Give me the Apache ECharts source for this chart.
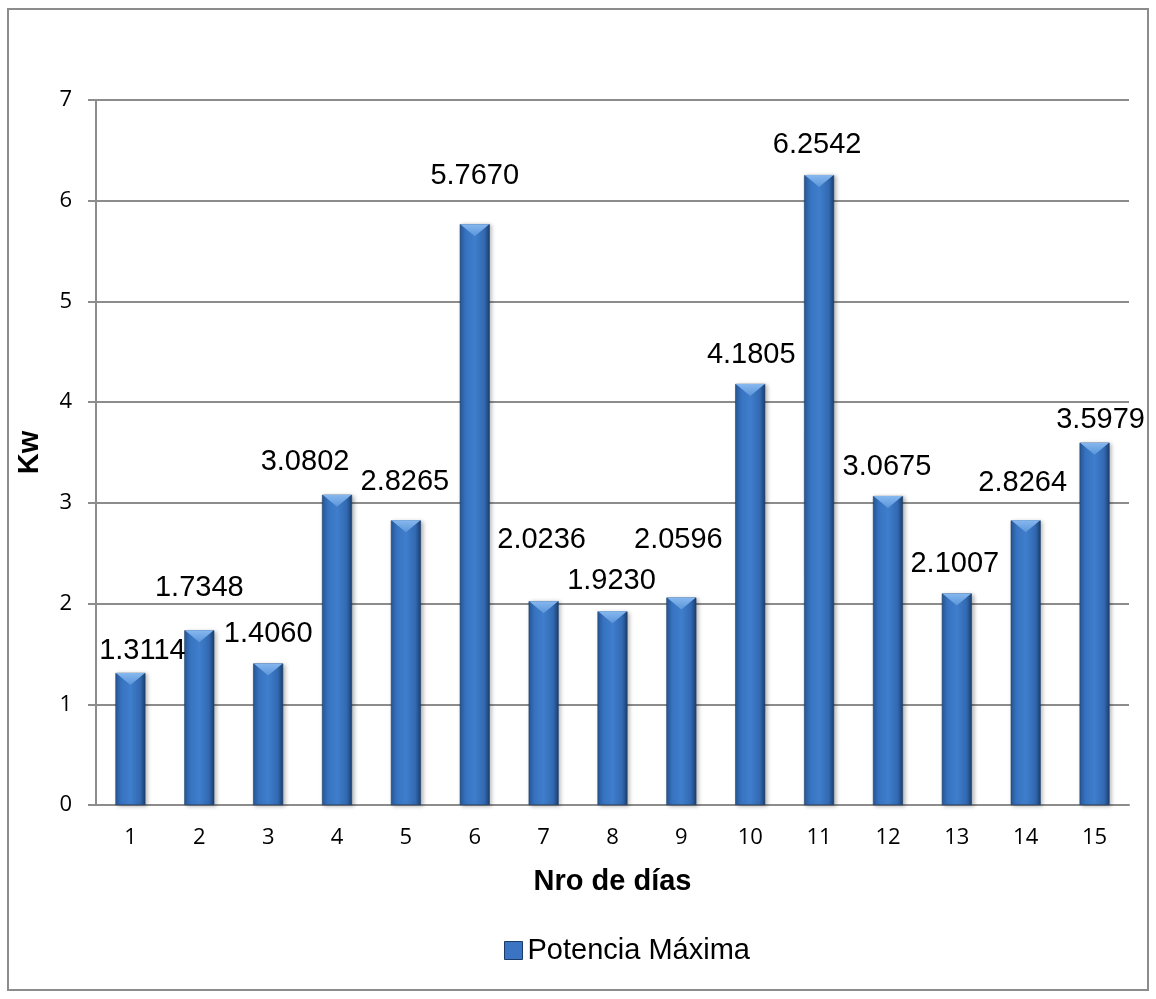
<!DOCTYPE html>
<html>
<head>
<meta charset="utf-8">
<script src="https://cdn.jsdelivr.net/npm/echarts@6/dist/echarts.min.js"></script>
<style>
  html, body { margin: 0; padding: 0; background: #ffffff; }
  #chart { width: 1156px; height: 999px; }
</style>
</head>
<body>
<div id="chart"></div>
<script>
// Días de medición y potencia máxima registrada (kW)
const dias = ['1', '2', '3', '4', '5', '6', '7', '8', '9', '10', '11', '12', '13', '14', '15'];
const potenciaMaxima = [1.3114, 1.7348, 1.4060, 3.0802, 2.8265, 5.7670, 2.0236, 1.9230, 2.0596, 4.1805, 6.2542, 3.0675, 2.1007, 2.8264, 3.5979];
const serieNombre = 'Potencia Máxima';
const yTicks = [0, 1, 2, 3, 4, 5, 6, 7];

// Desplazamiento [dx, dy] de cada etiqueta respecto al centro superior de su barra
const labelNudge = [
  [12, -22], [0, -42], [0, -29], [-32, -33], [-1, -38],
  [0, -48], [-2, -61], [-1, -30], [-3, -58], [1, -29],
  [-2, -30], [-1, -29], [-2, -29], [-3, -37], [6, -23]
];

const GRID_COLOR = '#8c8c8c';

const barGradient = new echarts.graphic.LinearGradient(0, 0, 1, 0, [
  { offset: 0, color: '#285896' },
  { offset: 0.18, color: '#3672c0' },
  { offset: 0.5, color: '#3f7ecc' },
  { offset: 0.82, color: '#3269b2' },
  { offset: 1, color: '#1b3f6c' }
]);

const bevelGradient = new echarts.graphic.LinearGradient(0, 0, 0, 1, [
  { offset: 0, color: '#86b8ef' },
  { offset: 1, color: '#5b95da' }
]);

const barData = potenciaMaxima.map((v, i) => ({
  value: v,
  label: {
    offset: labelNudge[i]
  }
}));

const chart = echarts.init(document.getElementById('chart'), null, { renderer: 'canvas' });

chart.setOption({
  animation: false,
  backgroundColor: '#ffffff',
  graphic: [{
    type: 'rect',
    shape: { x: 8, y: 9, width: 1140, height: 981 },
    style: { fill: 'none', stroke: GRID_COLOR, lineWidth: 2 },
    silent: true,
    z: -1
  }],
  grid: { left: 96, right: 27, top: 100, bottom: 194 },
  legend: {
    data: [{ name: serieNombre, icon: 'rect' }],
    left: 499,
    top: 931,
    itemWidth: 18,
    itemHeight: 18,
    itemGap: 6,
    itemStyle: { color: '#3a74c2', borderColor: '#1b3c68', borderWidth: 1 },
    textStyle: { fontFamily: 'Liberation Sans', fontSize: 29, color: '#000000', padding: [0, 0, 0, 0] }
  },
  xAxis: {
    type: 'category',
    data: dias,
    name: 'Nro de días',
    nameLocation: 'middle',
    nameGap: 62,
    nameTextStyle: { fontFamily: 'Liberation Sans', fontWeight: 'bold', fontSize: 29, color: '#000000' },
    axisLine: { show: true, lineStyle: { color: GRID_COLOR, width: 2 } },
    axisTick: { show: false },
    axisLabel: { fontFamily: 'Open Sans', fontSize: 22, color: '#000000', margin: 22 },
    splitLine: { show: false }
  },
  yAxis: {
    type: 'value',
    min: yTicks[0],
    max: yTicks[yTicks.length - 1],
    interval: 1,
    name: 'Kw',
    nameLocation: 'middle',
    nameGap: 52,
    nameRotate: 90,
    nameTextStyle: { fontFamily: 'Liberation Sans', fontWeight: 'bold', fontSize: 29, color: '#000000' },
    axisLine: { show: true, lineStyle: { color: GRID_COLOR, width: 2 } },
    axisTick: { show: true, length: 8, lineStyle: { color: GRID_COLOR, width: 2 } },
    axisLabel: { fontFamily: 'Open Sans', fontSize: 22, color: '#000000', margin: 24 },
    splitLine: { show: true, lineStyle: { color: GRID_COLOR, width: 2 } }
  },
  series: [
    {
      name: serieNombre,
      type: 'bar',
      data: barData,
      barWidth: 30,
      itemStyle: {
        color: barGradient,
        borderColor: '#1b3c68',
        borderWidth: 0.6,
        shadowColor: 'rgba(0,0,0,0.28)',
        shadowBlur: 4,
        shadowOffsetX: 2,
        shadowOffsetY: 1
      },
      label: {
        show: true,
        position: 'top',
        distance: 0,
        verticalAlign: 'middle',
        formatter: p => p.value.toFixed(4),
        fontFamily: 'Liberation Sans',
        fontSize: 29,
        color: '#000000'
      },
      z: 2
    },
    {
      // Bisel claro en la parte superior de cada barra
      name: serieNombre + ' bisel',
      type: 'pictorialBar',
      data: potenciaMaxima,
      symbol: 'path://M0,0 L30,0 L15,12 Z',
      symbolSize: [29, 12],
      symbolPosition: 'end',
      symbolOffset: [0, 0],
      itemStyle: { color: bevelGradient },
      silent: true,
      legendHoverLink: false,
      z: 3
    }
  ]
});
</script>
</body>
</html>
